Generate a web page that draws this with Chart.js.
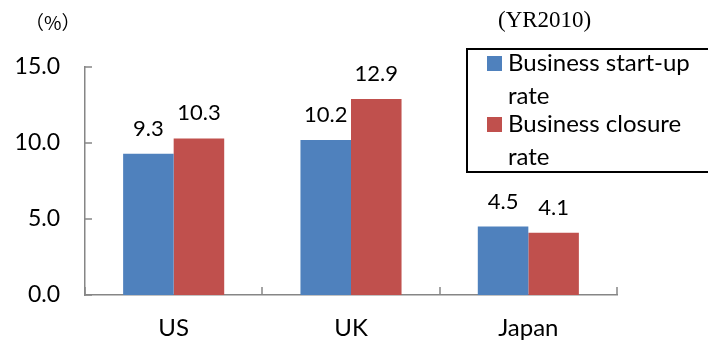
<!DOCTYPE html>
<html>
<head>
<meta charset="utf-8">
<script src="https://cdn.jsdelivr.net/npm/chart.js@4.4.1/dist/chart.umd.min.js"></script>
<style>
  html, body { margin: 0; padding: 0; background: #fff; }
</style>
</head>
<body>
<canvas id="myChart" width="708" height="343"></canvas>
<script>
const countries = ['US', 'UK', 'Japan'];
const startUpRate = [9.3, 10.2, 4.5];
const closureRate = [10.3, 12.9, 4.1];
const seriesNames = ['Business start-up rate', 'Business closure rate'];
const unitLabel = '（%）';
const yearLabel = '(YR2010)';

const BLUE = '#4F81BD';
const RED = '#C0504D';
const AXIS = '#868686';
const FONT = 'Lato';

function line(ctx, x1, y1, x2, y2) {
  ctx.beginPath();
  ctx.moveTo(x1, y1);
  ctx.lineTo(x2, y2);
  ctx.stroke();
}

// short tick marks pointing into the plot
const innerTicks = {
  id: 'innerTicks',
  afterDatasetsDraw(chart) {
    const { ctx, chartArea, scales: { x, y } } = chart;
    ctx.save();
    ctx.strokeStyle = AXIS;
    ctx.lineWidth = 1.5;
    y.ticks.forEach((t, i) => {
      const py = Math.round(y.getPixelForTick(i));
      line(ctx, chartArea.left, py, chartArea.left + 7, py);
    });
    for (let i = 0; i <= countries.length; i++) {
      const px = Math.round(x.getPixelForValue(i - 0.5));
      line(ctx, px, chartArea.bottom, px, chartArea.bottom - 8);
    }
    ctx.restore();
  }
};

// numbers above each bar
const valueLabels = {
  id: 'valueLabels',
  afterDatasetsDraw(chart) {
    const { ctx } = chart;
    ctx.save();
    ctx.font = '22px ' + FONT;
    ctx.fillStyle = '#000';
    ctx.textAlign = 'center';
    ctx.textBaseline = 'alphabetic';
    chart.data.datasets.forEach((ds, di) => {
      chart.getDatasetMeta(di).data.forEach((bar, i) => {
        ctx.fillText(ds.data[i].toFixed(1), bar.x, bar.y - 18);
      });
    });
    ctx.restore();
  }
};

// boxed legend with wrapped names, plus the unit and year notes
const sideNotes = {
  id: 'sideNotes',
  afterDraw(chart) {
    const { ctx } = chart;
    ctx.save();
    ctx.fillStyle = '#000';
    ctx.textBaseline = 'alphabetic';
    ctx.font = '19px "Noto Sans CJK JP"';
    ctx.fillText(unitLabel, 25, 30);
    ctx.font = '23px "Liberation Serif"';
    ctx.fillText(yearLabel, 498, 27);

    ctx.strokeStyle = '#000';
    ctx.lineWidth = 2;
    ctx.strokeRect(467, 49, 260, 123);

    ctx.font = '24px ' + FONT;
    const tops = [56, 117];
    chart.data.datasets.forEach((ds, di) => {
      const top = tops[di];
      ctx.fillStyle = ds.backgroundColor;
      ctx.fillRect(487, top, 15, 15);
      const cut = ds.label.lastIndexOf(' ');
      ctx.fillStyle = '#000';
      ctx.fillText(ds.label.slice(0, cut), 508, top + 15);
      ctx.fillText(ds.label.slice(cut + 1), 508, top + 48);
    });
    ctx.restore();
  }
};

new Chart(document.getElementById('myChart'), {
  type: 'bar',
  data: {
    labels: countries,
    datasets: [
      { label: seriesNames[0], data: startUpRate, backgroundColor: BLUE },
      { label: seriesNames[1], data: closureRate, backgroundColor: RED }
    ]
  },
  options: {
    responsive: false,
    animation: false,
    devicePixelRatio: 1,
    layout: { padding: { top: 67, right: 91, bottom: 0, left: 0 } },
    datasets: { bar: { categoryPercentage: 0.57, barPercentage: 1 } },
    plugins: {
      legend: { display: false },
      tooltip: { enabled: false }
    },
    scales: {
      x: {
        grid: { display: false, drawTicks: false },
        border: { display: true, color: AXIS, width: 1.5 },
        ticks: { color: '#000', font: { family: FONT, size: 24 }, padding: 19 },
        afterFit(scale) { scale.height = 48; }
      },
      y: {
        min: 0,
        max: 15,
        grid: { display: false, drawTicks: false },
        border: { display: true, color: AXIS, width: 1.5 },
        ticks: {
          stepSize: 5,
          color: '#000',
          font: { family: FONT, size: 23 },
          padding: 25,
          callback: v => v.toFixed(1)
        },
        afterFit(scale) { scale.width = 85; }
      }
    }
  },
  plugins: [innerTicks, valueLabels, sideNotes]
});
</script>
</body>
</html>
